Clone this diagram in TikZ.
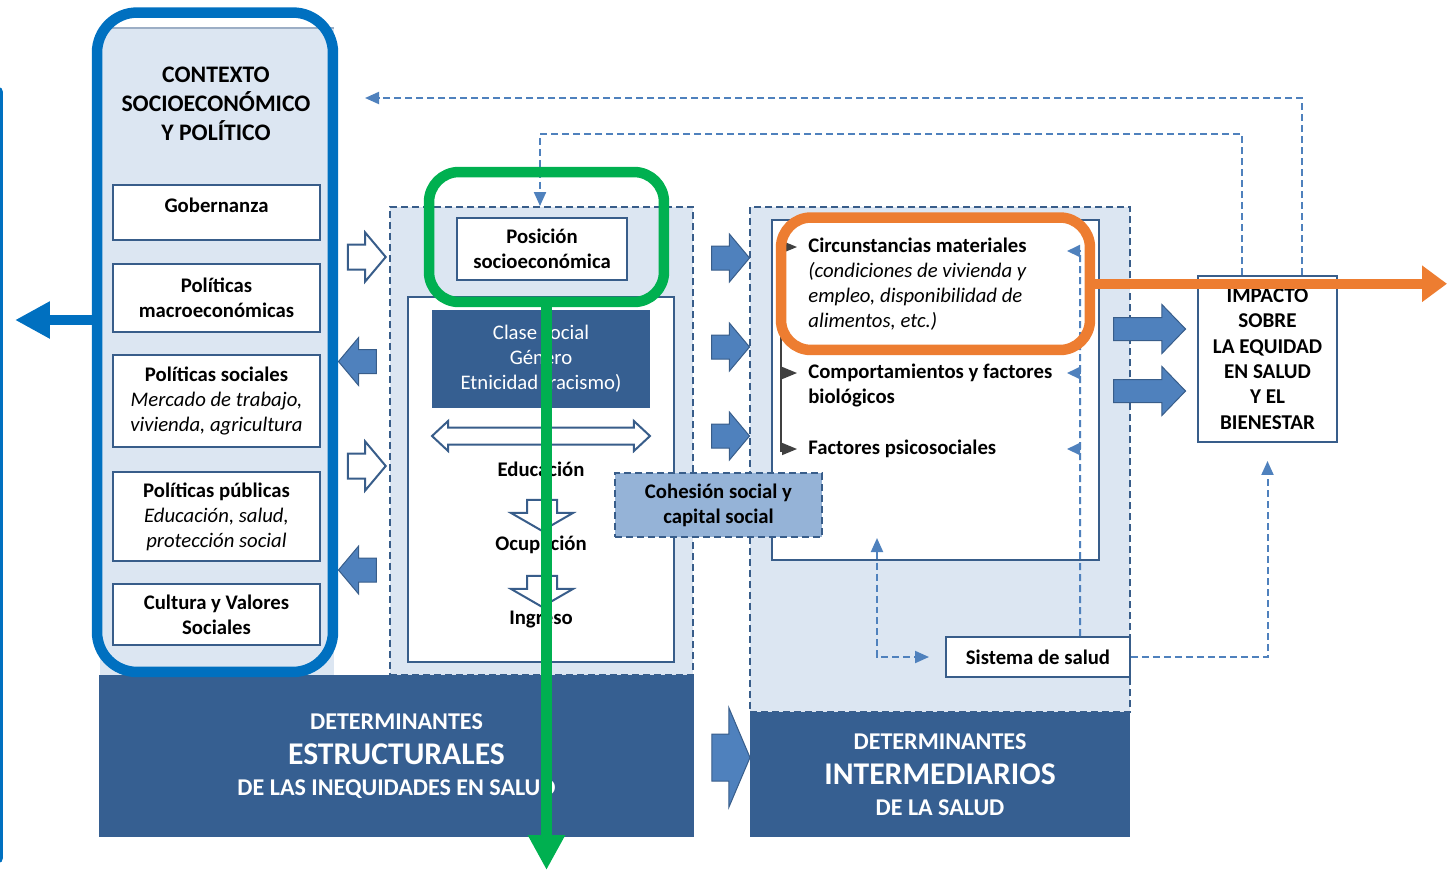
\documentclass[tikz,border=0pt]{standalone}
\usepackage{fontspec}
\setmainfont{Carlito}
\usetikzlibrary{arrows.meta,shapes.arrows}
\definecolor{lightfill}{HTML}{DCE6F2}
\definecolor{boxline}{HTML}{385D8A}
\definecolor{darkfill}{HTML}{365F91}
\definecolor{arrowfill}{HTML}{4F81BD}
\definecolor{cohfill}{HTML}{95B3D7}
\definecolor{hiblue}{HTML}{0070C0}
\definecolor{higreen}{HTML}{00B050}
\definecolor{hiorange}{HTML}{ED7D31}
\newcommand\boxtext{\fontsize{11.8}{14.2}\selectfont\bfseries}
\newcommand\titletext{\fontsize{13.5}{16.4}\selectfont\bfseries}
\newcommand\impacttext{\fontsize{12}{14.4}\selectfont\bfseries}
\newcommand\detsmall{\fontsize{13.7}{19.3}\selectfont\bfseries}
\newcommand\detbig{\fontsize{18}{19.3}\selectfont\bfseries}
\newcommand\subtxt[1]{{\mdseries\itshape #1}}
\tikzset{%
	whitebox/.style = {draw=boxline,line width=0.04cm,fill=white,align=center,font=\boxtext,inner sep=0pt},
	dashbox/.style = {draw=boxline,line width=0.04cm,dash pattern=on 0.14cm off 0.08cm,fill=lightfill,inner sep=0pt},
	darkbox/.style = {fill=darkfill,text=white,align=center,inner sep=0pt,font=\detsmall},
	plain/.style = {font=\boxtext,inner sep=0pt},
	fillarrow/.style = {single arrow,fill=arrowfill,draw=boxline,line width=0.02cm,inner xsep=0pt},
	hollowarrow/.style = {single arrow,fill=white,draw=boxline,line width=0.04cm,inner xsep=0pt},
	smallarrow/.style = {minimum height=0.76cm,inner ysep=0.23cm,single arrow head extend=0.24cm,single arrow tip angle=100},
	bigarrow/.style = {minimum height=1.44cm,inner ysep=0.22cm,single arrow head extend=0.26cm,single arrow tip angle=92},
	tallarrow/.style = {minimum height=0.76cm,inner ysep=0.46cm,single arrow head extend=0.53cm,single arrow tip angle=134},
	downarrow/.style = {minimum height=0.62cm,inner ysep=0.28cm,single arrow head extend=0.32cm,single arrow tip angle=120,rotate=270},
	feedback/.style = {draw=arrowfill,line width=0.04cm,dash pattern=on 0.14cm off 0.08cm,-{Triangle[length=0.28cm,width=0.24cm]}},
	listtip/.style = {draw=black!75,line width=0.03cm,-{Triangle[length=0.3cm,width=0.24cm]}},
	hilite/.style = {line width=0.21cm,inner sep=0pt},
	hilarrow/.style = {line width=0.21cm,-{Triangle[length=0.7cm,width=0.7cm]}}%
}
\begin{document}
\begin{tikzpicture}[x=0.02cm,y=-0.02cm]
	\useasboundingbox (0,0) rectangle (1447,870);
	
	% contexto
	\fill[lightfill] (100,28) rectangle (334,675);
	\draw[boxline!50,line width=0.03cm] (100,28) -- (334,28);
	\node(contexto)[font=\titletext,align=center] at (216,104){CONTEXTO\\SOCIOECONÓMICO\\Y POLÍTICO};
	\node(gob)[whitebox,text depth=0.28cm,minimum width=4.14cm,minimum height=1.1cm] at (216.5,212.5){Gobernanza};
	\node(macro)[whitebox,minimum width=4.14cm,minimum height=1.36cm] at (216.5,298){Políticas\\macroeconómicas};
	\node(psoc)[whitebox,minimum width=4.14cm,minimum height=1.84cm] at (216.5,401){Políticas sociales\\\subtxt{Mercado de trabajo,}\\\subtxt{vivienda, agricultura}};
	\node(ppub)[whitebox,minimum width=4.14cm,minimum height=1.78cm] at (216.5,516.5){Políticas públicas\\\subtxt{Educación, salud,}\\\subtxt{protección social}};
	\node(cult)[whitebox,minimum width=4.14cm,minimum height=1.22cm] at (216.5,614.5){Cultura y Valores\\Sociales};
	
	% posicion socioeconomica
	\node(mid)[dashbox,minimum width=6.06cm,minimum height=9.36cm] at (541.5,441){};
	\node(posicion)[whitebox,minimum width=3.4cm,minimum height=1.24cm] at (542,249){Posición\\socioeconómica};
	\node(estrato)[whitebox,minimum width=5.32cm,minimum height=7.3cm] at (541,479.5){};
	\node(clase)[darkbox,font=\boxtext\mdseries,minimum width=4.36cm,minimum height=1.96cm] at (541,359){Clase social\\Género\\Etnicidad (racismo)};
	\node(eje)[double arrow,fill=white,draw=boxline,line width=0.04cm,inner xsep=0pt,minimum height=4.36cm,inner ysep=0.15cm,double arrow head extend=0.13cm,double arrow tip angle=86] at (541,436){};
	\node(educ)[plain] at (541,469){Educación};
	\node(paso1)[hollowarrow,downarrow] at (542,511){};
	\node(ocup)[plain] at (541,545){Ocupación};
	\node(paso2)[hollowarrow,downarrow] at (542,587){};
	\node(ingr)[plain] at (541,620){Ingreso};
	
	% intermediarios
	\node(inter)[dashbox,minimum width=7.6cm,minimum height=10.1cm] at (940,459.5){};
	\node(circbox)[whitebox,minimum width=6.54cm,minimum height=6.8cm] at (935.5,390){};
	\node(circ)[plain,anchor=west,align=left] at (808,284.5){Circunstancias materiales\\\subtxt{(condiciones de vivienda y}\\\subtxt{empleo, disponibilidad de}\\\subtxt{alimentos, etc.)}};
	\node(comp)[plain,anchor=west,align=left] at (808,385.5){Comportamientos y factores\\biológicos};
	\node(psic)[plain,anchor=west] at (808,449){Factores psicosociales};
	\draw[black!75,line width=0.03cm] (781,236) -- (781,452);
	\foreach \y in {247,373,449}
		\draw[listtip] (781,\y) -- (797,\y);
	\node(cohesion)[dashbox,fill=cohfill,font=\boxtext,align=center,minimum width=4.14cm,minimum height=1.28cm] at (718.5,505){Cohesión social y\\capital social};
	\node(sistema)[whitebox,minimum width=3.68cm,minimum height=0.8cm] at (1038,657){Sistema de salud};
	\node(impacto)[whitebox,font=\impacttext,minimum width=2.78cm,minimum height=3.32cm] at (1267.5,359){IMPACTO\\SOBRE\\LA EQUIDAD\\EN SALUD\\Y EL\\BIENESTAR};
	
	% determinantes
	\node(estruct)[darkbox,minimum width=11.9cm,minimum height=3.24cm] at (396.5,756){DETERMINANTES\\[1pt]{\detbig ESTRUCTURALES}\\[-1.7pt]DE LAS INEQUIDADES EN SALUD};
	\node(intermed)[darkbox,minimum width=7.6cm,minimum height=2.5cm] at (940,774.5){DETERMINANTES\\[1pt]{\detbig INTERMEDIARIOS}\\[-1.7pt]DE LA SALUD};
	
	% flechas de bloque
	\node(a1)[hollowarrow,smallarrow] at (361.5,257){};
	\node(a2)[fillarrow,smallarrow,rotate=180] at (362.5,361.5){};
	\node(a3)[hollowarrow,smallarrow] at (361.5,466){};
	\node(a4)[fillarrow,smallarrow,rotate=180] at (362.5,570){};
	\node(b1)[fillarrow,smallarrow] at (725.5,258){};
	\node(b2)[fillarrow,smallarrow] at (725.5,347){};
	\node(b3)[fillarrow,smallarrow] at (725.5,436){};
	\node(c1)[fillarrow,bigarrow] at (1144,329){};
	\node(c2)[fillarrow,bigarrow] at (1144,391){};
	\node(d1)[fillarrow,tallarrow] at (726,757.5){};
	
	% retroalimentacion
	\coordinate(fbtop) at (540,134);
	\coordinate(fbout) at (365,98);
	\draw[feedback] ([xshift=-0.51cm]impacto.north) |- (fbtop) -- (fbtop |- mid.north);
	\draw[feedback] ([xshift=0.69cm]impacto.north) |- (fbout);
	\draw[feedback] (sistema.east) -| ([yshift=-0.36cm]impacto.south);
	\draw[feedback,{Triangle[length=0.28cm,width=0.24cm]}-{Triangle[length=0.28cm,width=0.24cm]}] (877,538) |- ([xshift=-0.32cm]sistema.west);
	\draw[feedback,-] ([xshift=0.84cm]sistema.north) -- (1080,251);
	\foreach \y in {251,373,449}
		\draw[feedback,solid,-{Triangle[length=0.26cm,width=0.24cm]}] (1080,\y) -- (1067,\y);
	
	% resaltado
	\node(azul)[hilite,draw=hiblue,rounded corners=0.8cm,minimum width=4.72cm,minimum height=13.19cm] at (215,342.25){};
	\node(verde)[hilite,draw=higreen,rounded corners=0.6cm,minimum width=4.7cm,minimum height=2.6cm] at (546.5,237){};
	\node(naranja)[hilite,draw=hiorange,rounded corners=0.6cm,minimum width=6.18cm,minimum height=2.65cm] at (935.5,283.75){};
	\coordinate(izq) at (15,320);
	\coordinate(abajo) at (546.5,870);
	\coordinate(dcha) at (1447,283.75);
	\draw[hilarrow,hiblue] (azul.west |- izq) -- (izq);
	\draw[hilarrow,higreen] (verde.south) -- (abajo);
	\draw[hilarrow,hiorange,-{Triangle[length=0.5cm,width=0.7cm]}] (naranja.east) -- (dcha);
	\draw[hiblue,line width=0.21cm,line cap=round] (-2,92) -- (-2,858);
\end{tikzpicture}
\end{document}
